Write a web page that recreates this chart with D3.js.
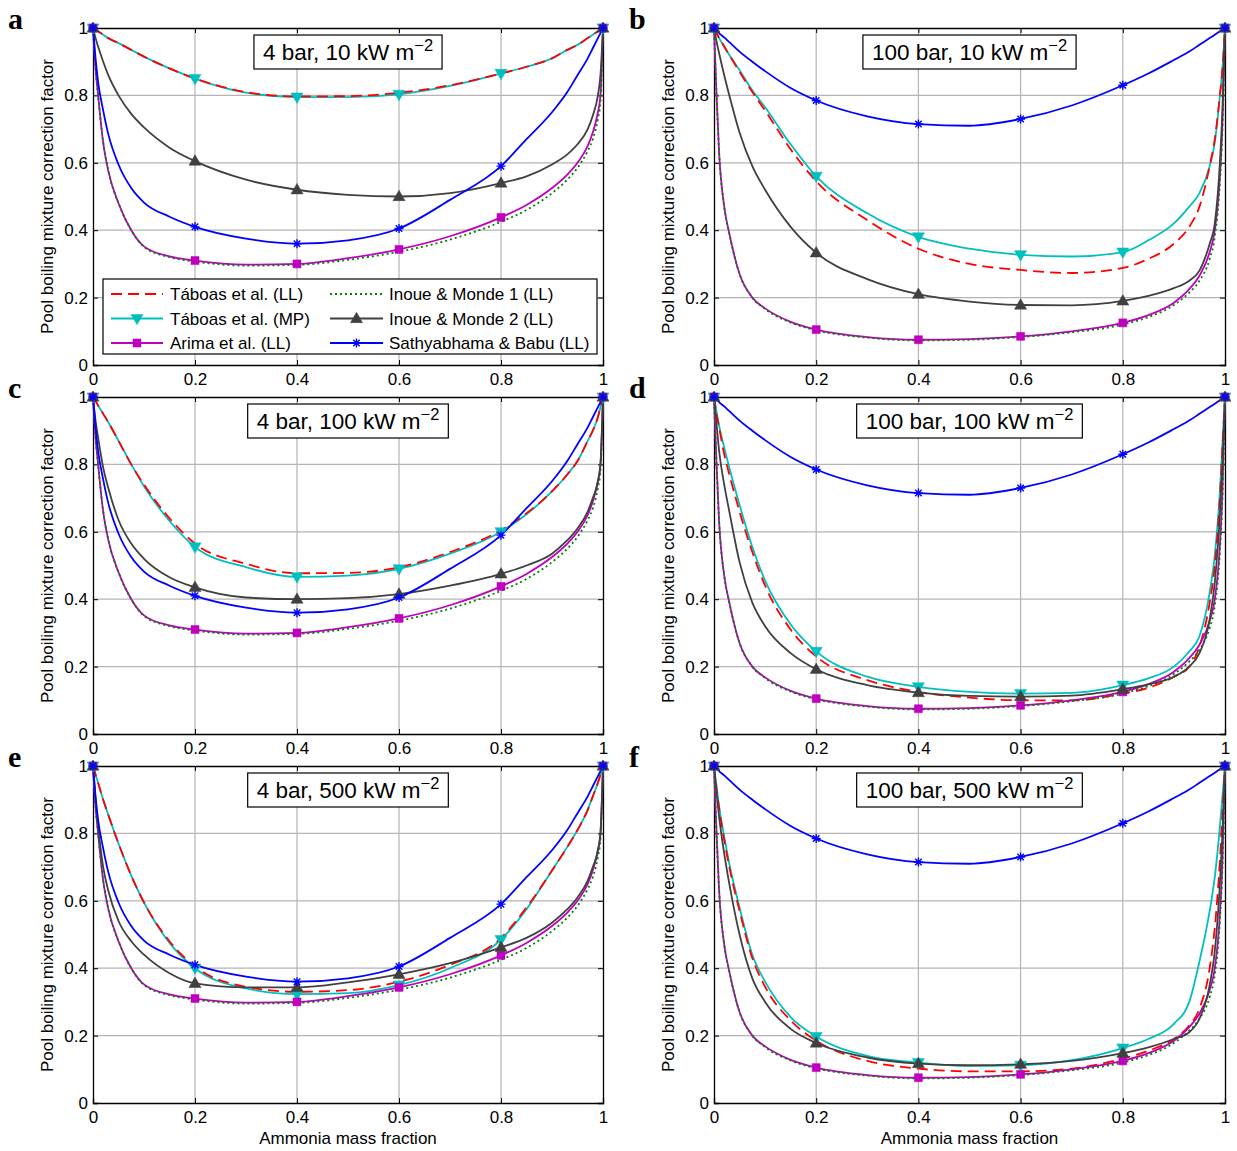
<!DOCTYPE html>
<html><head><meta charset="utf-8">
<script src="https://cdn.jsdelivr.net/npm/d3@7"></script>
<style>body{margin:0;background:#fff}svg{display:block}</style>
</head><body>
<script>
// ---------------- DATA ----------------
const xGrid = [0,0.005,0.01,0.02,0.03,0.05,0.075,0.1,0.15,0.2,0.3,0.4,0.5,0.6,0.7,0.8,0.85,0.9,0.93,0.95,0.97,0.98,0.99,0.995,1];
const xTicks = [0,0.2,0.4,0.6,0.8,1];
const yTicks = [0,0.2,0.4,0.6,0.8,1];
const xTickLabels = ["0","0.2","0.4","0.6","0.8","1"];
const yTickLabels = ["0","0.2","0.4","0.6","0.8","1"];
const seriesNames = ["Táboas et al. (LL)","Táboas et al. (MP)","Arima et al. (LL)","Inoue & Monde 1 (LL)","Inoue & Monde 2 (LL)","Sathyabhama & Babu (LL)"];
const panelLetters = ["a","b","c","d","e","f"];
const panelTitles = ["4 bar, 10 kW m","100 bar, 10 kW m","4 bar, 100 kW m","100 bar, 100 kW m","4 bar, 500 kW m","100 bar, 500 kW m"];
const xLabel = "Ammonia mass fraction";
const yLabel = "Pool boiling mixture correction factor";

// shared low pressure (4 bar)
const arima4   = [1,0.88,0.8,0.66,0.576,0.48,0.4,0.352,0.322,0.31,0.298,0.30,0.317,0.343,0.382,0.438,0.475,0.525,0.565,0.6,0.65,0.69,0.75,0.8,1];
const inoue1_4 = [1,0.88,0.8,0.66,0.576,0.48,0.4,0.35,0.32,0.307,0.295,0.297,0.312,0.336,0.372,0.425,0.46,0.51,0.55,0.585,0.635,0.67,0.73,0.78,1];
const sathy4   = [1,0.91,0.84,0.755,0.685,0.595,0.525,0.482,0.44,0.41,0.375,0.36,0.37,0.405,0.49,0.59,0.67,0.75,0.81,0.86,0.91,0.94,0.97,0.985,1];
// shared high pressure (100 bar)
const arima100   = [1,0.8,0.63,0.47,0.39,0.27,0.2,0.168,0.128,0.105,0.083,0.075,0.077,0.085,0.1,0.125,0.148,0.185,0.225,0.265,0.335,0.4,0.56,0.72,1];
const inoue1_100 = [1,0.8,0.63,0.47,0.39,0.27,0.2,0.166,0.126,0.103,0.081,0.073,0.075,0.083,0.097,0.12,0.142,0.178,0.215,0.25,0.315,0.38,0.54,0.7,1];
const sathy100   = [1,0.993,0.985,0.972,0.958,0.93,0.9,0.872,0.822,0.785,0.738,0.715,0.71,0.73,0.77,0.83,0.865,0.905,0.93,0.95,0.97,0.98,0.99,0.995,1];

// panel a: 4 bar, 10 kW m-2
const taboasLL_a = [1,0.995,0.99,0.98,0.97,0.955,0.935,0.915,0.88,0.85,0.81,0.797,0.798,0.808,0.83,0.865,0.885,0.91,0.935,0.95,0.97,0.98,0.99,0.995,1];
const taboasMP_a = [1,0.995,0.99,0.98,0.97,0.955,0.935,0.915,0.88,0.85,0.808,0.795,0.795,0.803,0.828,0.865,0.885,0.91,0.935,0.95,0.97,0.98,0.99,0.995,1];
const inoue2_a   = [1,0.97,0.945,0.9,0.86,0.8,0.745,0.705,0.645,0.605,0.55,0.52,0.505,0.50,0.51,0.54,0.56,0.595,0.625,0.655,0.7,0.74,0.8,0.86,1];
// panel b: 100 bar, 10 kW m-2
const taboasLL_b = [1,0.985,0.97,0.945,0.92,0.87,0.81,0.755,0.64,0.545,0.43,0.345,0.3,0.282,0.273,0.288,0.315,0.36,0.41,0.47,0.59,0.67,0.8,0.88,1];
const taboasMP_b = [1,0.985,0.97,0.945,0.92,0.875,0.815,0.765,0.655,0.56,0.45,0.38,0.345,0.327,0.322,0.335,0.37,0.42,0.47,0.51,0.59,0.66,0.8,0.88,1];
const inoue2_b   = [1,0.96,0.925,0.86,0.8,0.69,0.59,0.52,0.41,0.333,0.255,0.21,0.188,0.178,0.177,0.19,0.205,0.228,0.25,0.28,0.36,0.42,0.6,0.76,1];
// panel c: 4 bar, 100 kW m-2
const taboasLL_c = [1,0.988,0.975,0.95,0.925,0.87,0.8,0.74,0.64,0.565,0.505,0.477,0.478,0.495,0.54,0.605,0.655,0.72,0.77,0.81,0.87,0.9,0.94,0.97,1];
const taboasMP_c = [1,0.988,0.975,0.95,0.925,0.87,0.8,0.735,0.632,0.555,0.495,0.466,0.47,0.49,0.535,0.60,0.652,0.72,0.77,0.81,0.87,0.9,0.94,0.97,1];
const inoue2_c   = [1,0.93,0.88,0.79,0.73,0.635,0.565,0.52,0.465,0.435,0.405,0.40,0.403,0.415,0.44,0.475,0.5,0.535,0.575,0.61,0.66,0.7,0.75,0.8,1];
// panel d: 100 bar, 100 kW m-2
const taboasLL_d = [1,0.95,0.91,0.83,0.77,0.66,0.54,0.44,0.31,0.23,0.16,0.125,0.108,0.10,0.10,0.12,0.137,0.17,0.2,0.26,0.39,0.5,0.7,0.85,1];
const taboasMP_d = [1,0.955,0.915,0.85,0.79,0.68,0.555,0.455,0.325,0.245,0.17,0.14,0.125,0.12,0.122,0.145,0.165,0.2,0.245,0.29,0.42,0.53,0.72,0.86,1];
const inoue2_d   = [1,0.92,0.84,0.74,0.66,0.51,0.39,0.32,0.24,0.192,0.145,0.123,0.113,0.111,0.114,0.133,0.147,0.17,0.2,0.24,0.34,0.45,0.65,0.8,1];
// panel e: 4 bar, 500 kW m-2
const taboasLL_e = [1,0.975,0.95,0.9,0.855,0.77,0.675,0.595,0.48,0.405,0.345,0.33,0.335,0.36,0.41,0.49,0.58,0.69,0.76,0.81,0.87,0.91,0.95,0.975,1];
const taboasMP_e = [1,0.975,0.95,0.9,0.855,0.77,0.675,0.595,0.475,0.40,0.34,0.323,0.326,0.35,0.40,0.485,0.575,0.69,0.76,0.81,0.87,0.91,0.95,0.975,1];
const inoue2_e   = [1,0.9,0.82,0.7,0.63,0.54,0.48,0.44,0.385,0.355,0.343,0.343,0.358,0.382,0.415,0.462,0.49,0.535,0.575,0.61,0.66,0.7,0.75,0.8,1];
// panel f: 100 bar, 500 kW m-2
const taboasLL_f = [1,0.93,0.875,0.78,0.7,0.57,0.43,0.345,0.245,0.185,0.125,0.102,0.094,0.094,0.102,0.132,0.155,0.19,0.23,0.28,0.4,0.52,0.72,0.86,1];
const taboasMP_f = [1,0.94,0.88,0.79,0.71,0.58,0.44,0.36,0.255,0.197,0.14,0.12,0.11,0.112,0.127,0.163,0.19,0.235,0.3,0.42,0.57,0.67,0.82,0.91,1];
const inoue2_f   = [1,0.92,0.85,0.74,0.65,0.5,0.37,0.3,0.22,0.178,0.135,0.117,0.112,0.115,0.125,0.148,0.165,0.19,0.21,0.25,0.35,0.45,0.65,0.8,1];

const panelSeries = [
  [taboasLL_a, taboasMP_a, arima4,   inoue1_4,   inoue2_a, sathy4],
  [taboasLL_b, taboasMP_b, arima100, inoue1_100, inoue2_b, sathy100],
  [taboasLL_c, taboasMP_c, arima4,   inoue1_4,   inoue2_c, sathy4],
  [taboasLL_d, taboasMP_d, arima100, inoue1_100, inoue2_d, sathy100],
  [taboasLL_e, taboasMP_e, arima4,   inoue1_4,   inoue2_e, sathy4],
  [taboasLL_f, taboasMP_f, arima100, inoue1_100, inoue2_f, sathy100]
];

// ---------------- STYLE ----------------
const styles = [
  {color:"#ff0000", dash:"11,6", marker:null},
  {color:"#00bfbf", dash:null, marker:"tridown"},
  {color:"#bf00bf", dash:null, marker:"square"},
  {color:"#008000", dash:"2,3", marker:null},
  {color:"#404040", dash:null, marker:"triup"},
  {color:"#0000ff", dash:null, marker:"star"}
];
const drawOrder = [1,0,2,3,4,5];
const FONT = "'Liberation Sans', Arial, Helvetica, sans-serif";
const FS = 17;

const W = 1237, H = 1151;
const svg = d3.select("body").append("svg").attr("width",W).attr("height",H)
  .style("font-family",FONT);

const colLeft = [93, 714], colWidth = [510, 511];
const rowTop = [28, 397, 766], plotH = 337;

function markerPath(type, s){
  const r = s/2;
  if(type==="square") return `M${-r},${-r}h${s}v${s}h${-s}Z`;
  if(type==="triup") return `M0,${-r*1.15}L${r*1.1},${r*0.75}L${-r*1.1},${r*0.75}Z`;
  if(type==="tridown") return `M0,${r*1.15}L${r*1.1},${-r*0.75}L${-r*1.1},${-r*0.75}Z`;
  if(type==="star"){
    const a = r*0.72;
    return `M${-r},0H${r}M0,${-r}V${r}M${-a},${-a}L${a},${a}M${-a},${a}L${a},${-a}`;
  }
  return "";
}
function drawMarker(g, type, color, x, y){
  if(type==="star"){
    g.append("path").attr("d",markerPath(type,9)).attr("transform",`translate(${x},${y})`)
      .attr("stroke",color).attr("stroke-width",1.4).attr("fill","none");
  } else {
    const s = type==="square"?8:11;
    g.append("path").attr("d",markerPath(type,s)).attr("transform",`translate(${x},${y})`)
      .attr("fill",color).attr("stroke",color).attr("stroke-width",0.5);
  }
}

panelSeries.forEach((series, pi) => {
  const col = pi % 2, row = Math.floor(pi/2);
  const L = colLeft[col], T = rowTop[row], Wd = colWidth[col];
  const x = d3.scaleLinear().domain([0,1]).range([L, L+Wd]);
  const y = d3.scaleLinear().domain([0,1]).range([T+plotH, T]);
  const g = svg.append("g");

  // grid
  g.append("g").selectAll("line").data(xTicks.slice(1,-1)).join("line")
    .attr("x1",d=>x(d)).attr("x2",d=>x(d)).attr("y1",T).attr("y2",T+plotH)
    .attr("stroke","#b4b4b4").attr("stroke-width",1.2);
  g.append("g").selectAll("line").data(yTicks.slice(1,-1)).join("line")
    .attr("y1",d=>y(d)).attr("y2",d=>y(d)).attr("x1",L).attr("x2",L+Wd)
    .attr("stroke","#b4b4b4").attr("stroke-width",1.2);

  // axes
  const xAxis = d3.axisBottom(x).tickValues(xTicks).tickFormat((d,i)=>xTickLabels[i]).tickSize(-5).tickPadding(8);
  const gx = g.append("g").attr("transform",`translate(0,${T+plotH})`).call(xAxis);
  const xAxisTop = d3.axisTop(x).tickValues(xTicks).tickFormat("").tickSize(-5);
  const gxt = g.append("g").attr("transform",`translate(0,${T})`).call(xAxisTop);
  const yAxis = d3.axisLeft(y).tickValues(yTicks).tickFormat((d,i)=>yTickLabels[i]).tickSize(-5).tickPadding(5);
  const gy = g.append("g").attr("transform",`translate(${L},0)`).call(yAxis);
  const yAxisR = d3.axisRight(y).tickValues(yTicks).tickFormat("").tickSize(-5);
  const gyr = g.append("g").attr("transform",`translate(${L+Wd},0)`).call(yAxisR);
  [gx,gxt,gy,gyr].forEach(a=>{
    a.select(".domain").attr("stroke","#000").attr("stroke-width",1.3);
    a.selectAll(".tick line").attr("stroke","#000").attr("stroke-width",1);
    a.selectAll("text").attr("font-family",FONT).attr("font-size",FS).attr("fill","#000");
  });

  // lines
  const clipId = "clip"+pi;
  svg.append("clipPath").attr("id",clipId).append("rect")
    .attr("x",L-6).attr("y",T-6).attr("width",Wd+12).attr("height",plotH+12);
  const lg = g.append("g").attr("clip-path",`url(#${clipId})`);
  const line = d3.line().x((d,i)=>x(xGrid[i])).y(d=>y(d)).curve(d3.curveMonotoneX);
  drawOrder.forEach(si => {
    const st = styles[si];
    lg.append("path").datum(series[si]).attr("d",line).attr("fill","none")
      .attr("stroke",st.color).attr("stroke-width",1.8)
      .attr("stroke-dasharray",st.dash);
  });
  drawOrder.forEach(si => {
    const st = styles[si];
    xTicks.forEach(t=>{
      const idx = xGrid.indexOf(t);
      const v = series[si][idx];
      if(st.marker) drawMarker(lg, st.marker, st.color, x(t), y(v));
    });
  });

  // panel title box
  const tb = g.append("g");
  const tt = tb.append("text").attr("x",x(0.5)).attr("y",T+32).attr("text-anchor","middle")
    .attr("font-size",22.5).attr("fill","#000");
  tt.append("tspan").text(panelTitles[pi]);
  tt.append("tspan").attr("dy",-9).attr("font-size",16.5).text("−2");
  const bb = tt.node().getBBox();
  tb.insert("rect","text").attr("x",bb.x-9).attr("y",T+7).attr("width",bb.width+18).attr("height",34)
    .attr("fill","#fff").attr("stroke","#000").attr("stroke-width",1.2);

  // letter
  svg.append("text").attr("x",L-85).attr("y",T+1).text(panelLetters[pi])
    .attr("font-family","'Liberation Serif','Times New Roman',serif").attr("font-weight","bold")
    .attr("font-size",30).attr("fill","#000");

  // y label
  svg.append("text").attr("transform",`translate(${L-46},${T+plotH/2}) rotate(-90)`)
    .attr("text-anchor","middle").attr("dy","0.35em").attr("font-size",FS).attr("fill","#000").text(yLabel);

  // x label for bottom row
  if(row===2){
    svg.append("text").attr("x",x(0.5)).attr("y",T+plotH+41).attr("text-anchor","middle")
      .attr("font-size",FS).attr("fill","#000").text(xLabel);
  }

  // legend in panel a
  if(pi===0){
    const lgd = g.append("g");
    lgd.append("rect").attr("x",103).attr("y",279).attr("width",494).attr("height",75)
      .attr("fill","#fff").attr("stroke","#000").attr("stroke-width",1.2);
    const rowsY = [294,318.5,343];
    seriesNames.forEach((name, si) => {
      const c = Math.floor(si/3), r = si%3;
      const lx1 = c===0?111:330, lx2 = c===0?163:383, tx = c===0?170:389;
      const st = styles[si];
      lgd.append("line").attr("x1",lx1).attr("x2",lx2).attr("y1",rowsY[r]).attr("y2",rowsY[r])
        .attr("stroke",st.color).attr("stroke-width",1.8).attr("stroke-dasharray",st.dash);
      if(st.marker) drawMarker(lgd, st.marker, st.color, (lx1+lx2)/2, rowsY[r]);
      lgd.append("text").attr("x",tx).attr("y",rowsY[r]+6).attr("font-size",FS).attr("fill","#000").text(name);
    });
  }
});
</script>
</body></html>
